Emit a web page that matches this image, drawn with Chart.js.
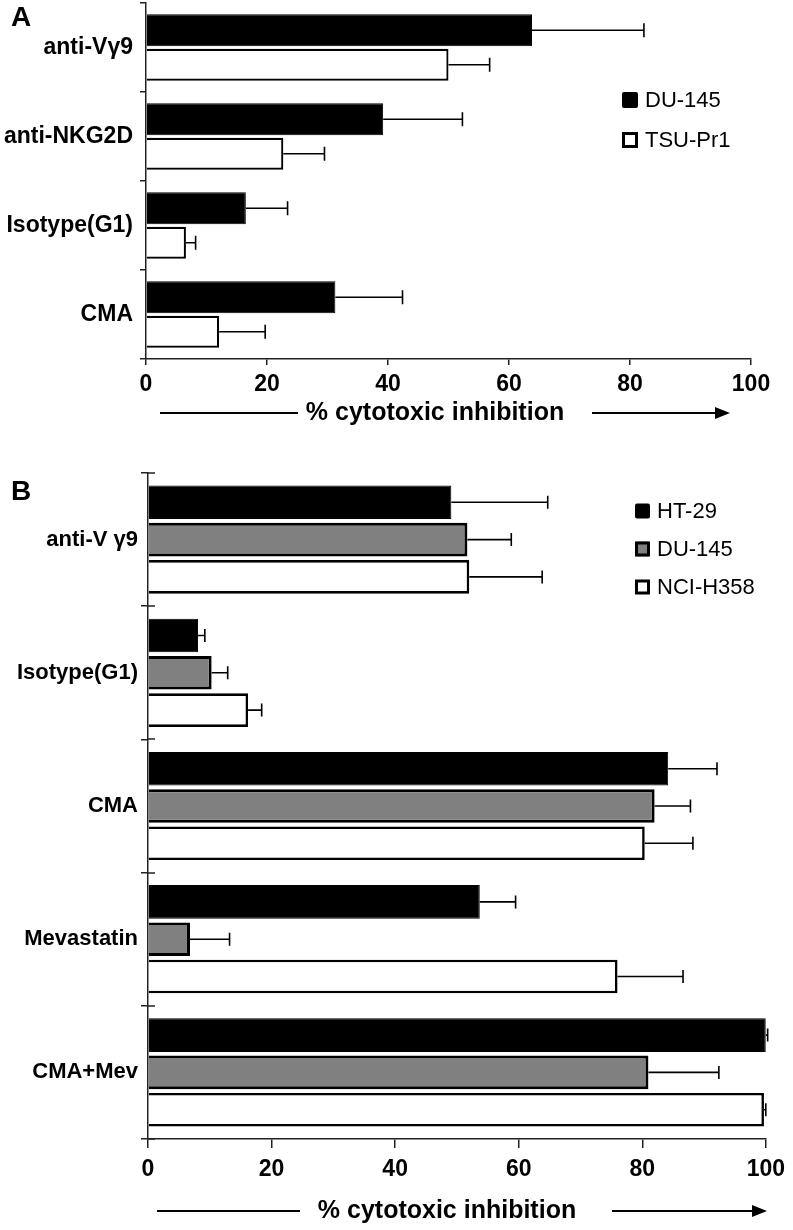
<!DOCTYPE html>
<html>
<head>
<meta charset="utf-8">
<title>% cytotoxic inhibition</title>
<script src="https://cdn.jsdelivr.net/npm/chart.js@4.4.0/dist/chart.umd.min.js"></script>
<style>
    body { margin: 0; background: #fff; }
    #wrap { position: relative; width: 793px; height: 1230px; }
    .panel { position: absolute; left: 0; }
    #panelA { top: 0; }
    #panelB { top: 440px; }
</style>
</head>
<body>
<div id="wrap">
    <canvas id="panelA" class="panel" width="793" height="440"></canvas>
    <canvas id="panelB" class="panel" width="793" height="790"></canvas>
</div>
<script>
// Panel A data (mean and SD, % cytotoxic inhibition)
const labelsA = ['anti-V\u03b39', 'anti-NKG2D', 'Isotype(G1)', 'CMA'];
const du145A = [63.8, 39.2, 16.5, 31.3];
const du145ErrA = [18.5, 13.1, 6.9, 11.1];
const tsuA = [50.0, 22.7, 6.6, 12.1];
const tsuErrA = [6.8, 6.8, 1.6, 7.6];

// Panel B data
const labelsB = ['anti-V \u03b39', 'Isotype(G1)', 'CMA', 'Mevastatin', 'CMA+Mev'];
const ht29B = [49.1, 8.1, 84.2, 53.7, 100];
const ht29ErrB = [15.6, 1.1, 7.9, 5.8, 0.3];
const du145B = [51.7, 10.3, 82.0, 6.8, 81.0];
const du145ErrB = [7.1, 2.6, 5.8, 6.4, 11.4];
const nciB = [52.0, 16.2, 80.4, 76.0, 99.7];
const nciErrB = [11.8, 2.2, 7.8, 10.6, 0.3];

const xTicks = [0, 20, 40, 60, 80, 100];
const axisTitle = '% cytotoxic inhibition';

const FONT = "'Liberation Sans', Arial, Helvetica, sans-serif";
const AXIS_COLOR = '#222';

// Draws error bars, legend, panel letter, axis title and arrows
const panelDecor = {
    id: 'panelDecor',
    afterDatasetsDraw(chart, args, opts) {
        const ctx = chart.ctx;
        const xScale = chart.scales.x;
        ctx.save();
        ctx.strokeStyle = '#000';
        ctx.lineWidth = opts.errWidth;
        chart.data.datasets.forEach((ds, di) => {
            const meta = chart.getDatasetMeta(di);
            meta.data.forEach((bar, i) => {
                const end = xScale.getPixelForValue(ds.data[i] + ds.errors[i]);
                ctx.beginPath();
                ctx.moveTo(bar.x, bar.y);
                ctx.lineTo(end, bar.y);
                ctx.moveTo(end, bar.y - opts.capHalf);
                ctx.lineTo(end, bar.y + opts.capHalf);
                ctx.stroke();
            });
        });
        ctx.restore();
    },
    afterDraw(chart, args, opts) {
        const ctx = chart.ctx;
        const area = chart.chartArea;
        const yScale = chart.scales.y;
        ctx.save();

        // ticks crossing the y axis
        if (opts.innerTick) {
            ctx.strokeStyle = AXIS_COLOR;
            ctx.lineWidth = 1.5;
            for (let k = 0; k <= chart.data.labels.length; k++) {
                const y = Math.round(yScale.getPixelForValue(k - 0.5));
                ctx.beginPath();
                ctx.moveTo(area.left, y);
                ctx.lineTo(area.left + opts.innerTick, y);
                ctx.stroke();
            }
        }

        // panel letter
        ctx.fillStyle = '#000';
        ctx.font = `bold 28px ${FONT}`;
        ctx.textAlign = 'center';
        ctx.textBaseline = 'middle';
        ctx.fillText(opts.letter, opts.letterX, opts.letterY);

        // legend
        ctx.font = `22px ${FONT}`;
        ctx.textAlign = 'left';
        chart.data.datasets.forEach((ds, i) => {
            const cy = opts.legendY + i * opts.legendGap;
            const s = opts.legendBox;
            ctx.beginPath();
            ctx.roundRect(opts.legendX, cy - s / 2, s, s, 2);
            ctx.fillStyle = ds.backgroundColor;
            ctx.fill();
            if (ds.backgroundColor !== '#000') {
                ctx.lineWidth = 3;
                ctx.strokeStyle = '#000';
                ctx.beginPath();
                ctx.rect(opts.legendX + 1.5, cy - s / 2 + 1.5, s - 3, s - 3);
                ctx.stroke();
            }
            ctx.fillStyle = '#000';
            ctx.fillText(ds.label, opts.legendX + s + 7, cy + 1);
        });

        // axis title with line and arrow
        const t = opts.title;
        ctx.font = `bold ${t.size}px ${FONT}`;
        ctx.textAlign = 'center';
        ctx.fillText(axisTitle, t.x, t.y);
        ctx.strokeStyle = '#000';
        ctx.lineWidth = 1.8;
        ctx.beginPath();
        ctx.moveTo(t.lineL[0], t.y);
        ctx.lineTo(t.lineL[1], t.y);
        ctx.moveTo(t.lineR[0], t.y);
        ctx.lineTo(t.lineR[1] - 14, t.y);
        ctx.stroke();
        ctx.beginPath();
        ctx.moveTo(t.lineR[1], t.y);
        ctx.lineTo(t.lineR[1] - 15, t.y - 6);
        ctx.lineTo(t.lineR[1] - 15, t.y + 6);
        ctx.closePath();
        ctx.fill();

        ctx.restore();
    }
};

function barSet(label, data, errors, fill, border) {
    return {
        label: label,
        data: data,
        errors: errors,
        backgroundColor: fill,
        borderColor: '#000',
        borderWidth: border,
        borderSkipped: 'start'
    };
}

function makeOptions(p) {
    return {
        indexAxis: 'y',
        responsive: false,
        animation: false,
        devicePixelRatio: 1,
        layout: { padding: { top: p.top, right: p.right, left: 0, bottom: 0 } },
        datasets: {
            bar: { categoryPercentage: p.catPct, barPercentage: p.barPct }
        },
        scales: {
            x: {
                type: 'linear',
                min: 0,
                max: 100,
                afterBuildTicks: (scale) => { scale.ticks = xTicks.map(v => ({ value: v })); },
                afterFit: (scale) => { scale.height = p.xHeight; },
                grid: { drawOnChartArea: false, tickLength: p.xTick, color: AXIS_COLOR, lineWidth: 1.5 },
                border: { color: AXIS_COLOR, width: 1.5 },
                ticks: {
                    color: '#000',
                    padding: p.xPad,
                    maxRotation: 0,
                    font: { family: FONT, size: 23, weight: 'bold' }
                }
            },
            y: {
                afterFit: (scale) => {
                    // fixed axis width, no extra room above/below for labels
                    scale.width = p.left;
                    scale.paddingTop = 0;
                    scale.paddingBottom = 0;
                },
                grid: { drawOnChartArea: false, tickLength: p.yTick, color: AXIS_COLOR, lineWidth: 1.5 },
                border: { color: AXIS_COLOR, width: 1.5 },
                ticks: {
                    color: '#000',
                    padding: p.yPad,
                    font: { family: FONT, size: p.yFont, weight: 'bold' }
                }
            }
        },
        plugins: {
            legend: { display: false },
            tooltip: { enabled: false },
            panelDecor: p.decor
        }
    };
}

// Panel A
new Chart(document.getElementById('panelA'), {
    type: 'bar',
    data: {
        labels: labelsA,
        datasets: [
            barSet('DU-145', du145A, du145ErrA, '#000', 1),
            barSet('TSU-Pr1', tsuA, tsuErrA, '#fff', 2.2)
        ]
    },
    options: makeOptions({
        top: 3, right: 42, left: 146, xHeight: 81,
        catPct: 0.775, barPct: 0.93,
        xTick: 6, xPad: 6, yTick: 6, yPad: 7, yFont: 23,
        decor: {
            letter: 'A', letterX: 21, letterY: 18,
            legendX: 622, legendY: 100, legendGap: 40, legendBox: 16,
            errWidth: 1.6, capHalf: 7, innerTick: 0,
            title: { x: 435, y: 413, size: 25, lineL: [160, 298], lineR: [592, 730] }
        }
    }),
    plugins: [panelDecor]
});

// Panel B
new Chart(document.getElementById('panelB'), {
    type: 'bar',
    data: {
        labels: labelsB,
        datasets: [
            barSet('HT-29', ht29B, ht29ErrB, '#000', 1),
            barSet('DU-145', du145B, du145ErrB, '#808080', 3),
            barSet('NCI-H358', nciB, nciErrB, '#fff', 2.6)
        ]
    },
    options: makeOptions({
        top: 33, right: 24, left: 148, xHeight: 91,
        catPct: 0.84, barPct: 0.9,
        xTick: 9, xPad: 8, yTick: 7, yPad: 3, yFont: 22,
        decor: {
            letter: 'B', letterX: 21, letterY: 52,
            legendX: 635, legendY: 71, legendGap: 38, legendBox: 15,
            errWidth: 1.6, capHalf: 6.5, innerTick: 7,
            title: { x: 447, y: 771, size: 25, lineL: [157, 300], lineR: [612, 767] }
        }
    }),
    plugins: [panelDecor]
});
</script>
</body>
</html>
